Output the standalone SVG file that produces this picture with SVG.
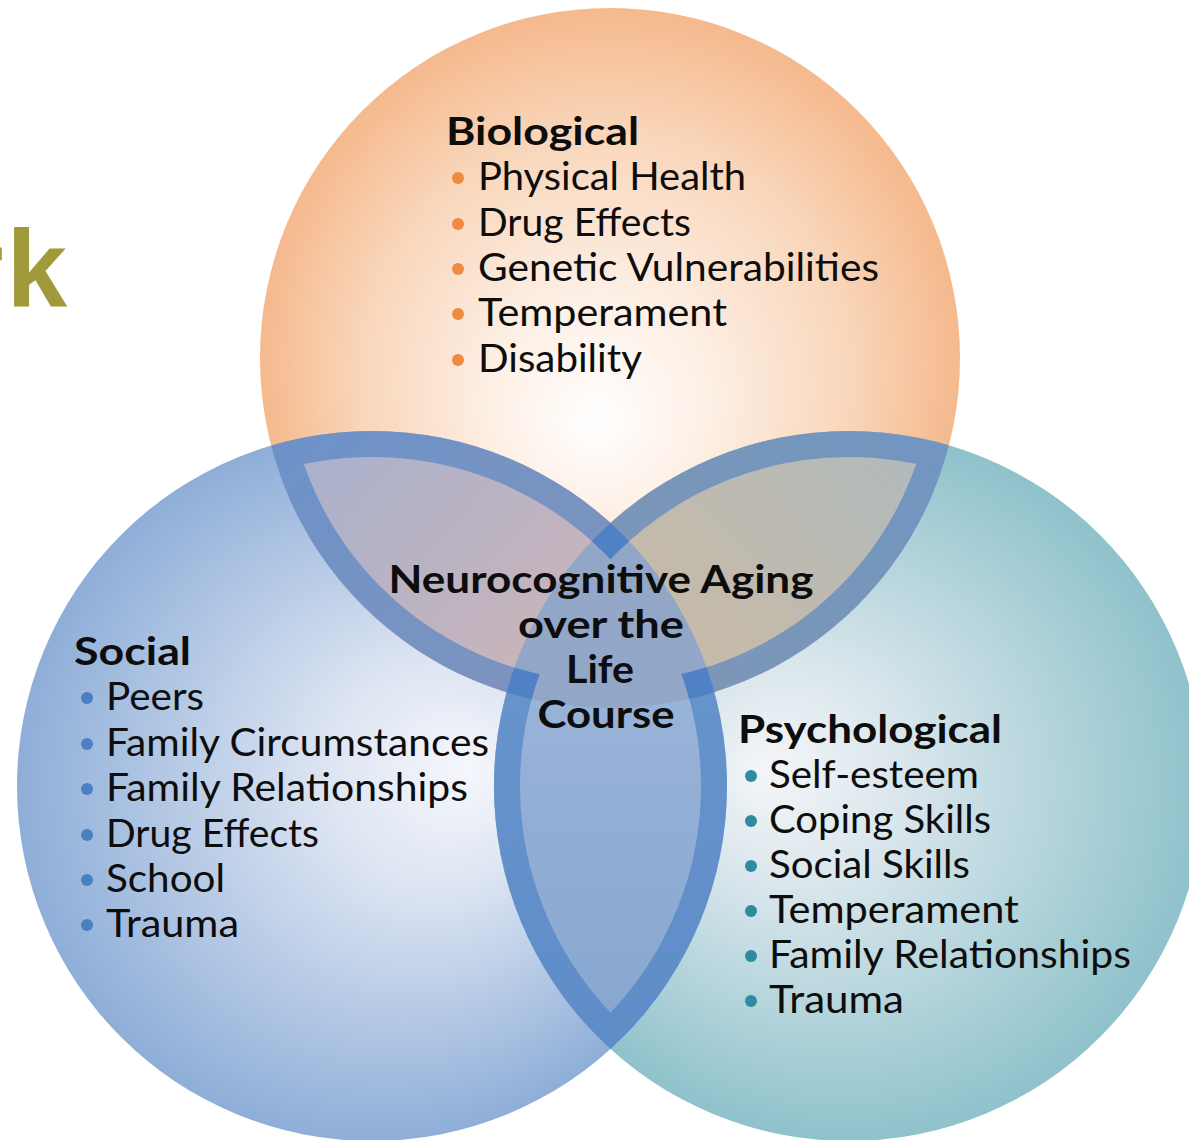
<svg xmlns="http://www.w3.org/2000/svg" width="1189" height="1140" viewBox="0 0 1189 1140">
  <style>
    .head { font-family: Lato, "Open Sans", "Liberation Sans", sans-serif; font-weight: bold; font-size: 39px; fill: #0d0d0d; }
    .item { font-family: Lato, "Open Sans", "Liberation Sans", sans-serif; font-size: 39px; fill: #0d0d0d; }
    .band { fill: none; stroke: #3f78c4; stroke-width: 52; }
    .dotB { fill: #ef8a43; }
    .dotS { fill: #4a7fc0; }
    .dotP { fill: #2e8ba0; }
  </style>
  <defs>
    <!-- circle fills -->
    <radialGradient id="gTop" gradientUnits="userSpaceOnUse" cx="610" cy="358" r="350" fx="595" fy="425">
      <stop offset="0" stop-color="#ffffff"/>
      <stop offset="0.3" stop-color="#fdf0e6"/>
      <stop offset="0.7" stop-color="#f9d6ba"/>
      <stop offset="1" stop-color="#f5b98d"/>
    </radialGradient>
    <radialGradient id="gLeft" gradientUnits="userSpaceOnUse" cx="372" cy="786" r="355" fx="470" fy="770">
      <stop offset="0" stop-color="#f5f7fc"/>
      <stop offset="0.3" stop-color="#dfe6f3"/>
      <stop offset="1" stop-color="#8eaed8"/>
    </radialGradient>
    <radialGradient id="gRight" gradientUnits="userSpaceOnUse" cx="849" cy="786" r="355" fx="765" fy="770">
      <stop offset="0" stop-color="#f4f6f8"/>
      <stop offset="0.3" stop-color="#dbe7ed"/>
      <stop offset="1" stop-color="#8fc2cb"/>
    </radialGradient>
    <!-- overlap fills -->
    <linearGradient id="gTL" gradientUnits="userSpaceOnUse" x1="300" y1="450" x2="560" y2="700">
      <stop offset="0" stop-color="#a9b1cd"/>
      <stop offset="1" stop-color="#cdb5b8"/>
    </linearGradient>
    <linearGradient id="gTR" gradientUnits="userSpaceOnUse" x1="930" y1="450" x2="660" y2="700">
      <stop offset="0" stop-color="#b1babd"/>
      <stop offset="1" stop-color="#cbbaa5"/>
    </linearGradient>
    <linearGradient id="gBot" gradientUnits="userSpaceOnUse" x1="0" y1="700" x2="0" y2="1047">
      <stop offset="0" stop-color="#99b3d9"/>
      <stop offset="1" stop-color="#87a6cf"/>
    </linearGradient>
    <clipPath id="cT"><circle cx="610" cy="358" r="350"/></clipPath>
    <clipPath id="cL"><circle cx="372" cy="786" r="355"/></clipPath>
    <clipPath id="cR"><circle cx="849" cy="786" r="355"/></clipPath>
    <!-- everything except the deep interior of each circle -->
    <clipPath id="notT"><path clip-rule="evenodd" d="M-10,-10H1200V1150H-10Z M286,358a324,324 0 1,0 648,0a324,324 0 1,0 -648,0Z"/></clipPath>
    <clipPath id="notL"><path clip-rule="evenodd" d="M-10,-10H1200V1150H-10Z M43,786a329,329 0 1,0 658,0a329,329 0 1,0 -658,0Z"/></clipPath>
    <clipPath id="notR"><path clip-rule="evenodd" d="M-10,-10H1200V1150H-10Z M520,786a329,329 0 1,0 658,0a329,329 0 1,0 -658,0Z"/></clipPath>
  </defs>

  <rect width="1189" height="1140" fill="#ffffff"/>

  <!-- tail of the page title, running in from the left edge -->
  <text x="-39" y="306" font-family="'Liberation Sans', Arial, sans-serif" font-weight="bold" font-size="109" fill="#a09a3a">r<tspan dx="3">k</tspan></text>

  <g id="circles">
    <circle id="circle-biological" cx="610" cy="358" r="350" fill="url(#gTop)"/>
    <circle id="circle-social" cx="372" cy="786" r="355" fill="url(#gLeft)"/>
    <circle id="circle-psychological" cx="849" cy="786" r="355" fill="url(#gRight)"/>
  </g>

  <g id="overlaps">
    <g clip-path="url(#cT)"><circle cx="372" cy="786" r="355" fill="url(#gTL)"/></g>
    <g clip-path="url(#cT)"><circle cx="849" cy="786" r="355" fill="url(#gTR)"/></g>
    <g clip-path="url(#cL)"><circle cx="849" cy="786" r="355" fill="url(#gBot)"/></g>
    <g clip-path="url(#cT)"><g clip-path="url(#cL)"><circle cx="849" cy="786" r="355" fill="#93a7c8"/></g></g>
  </g>

  <!-- inner rims of the pairwise overlaps -->
  <g id="connectors">
    <g clip-path="url(#cT)"><g clip-path="url(#cL)"><g clip-path="url(#notR)" opacity="0.55">
      <circle class="band" cx="610" cy="358" r="350"/>
      <circle class="band" cx="372" cy="786" r="355"/>
    </g></g></g>
    <g clip-path="url(#cT)"><g clip-path="url(#cR)"><g clip-path="url(#notL)" opacity="0.55">
      <circle class="band" cx="610" cy="358" r="350"/>
      <circle class="band" cx="849" cy="786" r="355"/>
    </g></g></g>
    <g clip-path="url(#cL)"><g clip-path="url(#cR)"><g clip-path="url(#notT)" opacity="0.55">
      <circle class="band" cx="372" cy="786" r="355"/>
      <circle class="band" cx="849" cy="786" r="355"/>
    </g></g></g>
  </g>

  <g id="node-biological">
    <text class="head" x="446" y="145" textLength="193" lengthAdjust="spacingAndGlyphs">Biological</text>
    <circle class="dotB" cx="458" cy="178" r="6"/>
    <text class="item" x="478" y="190" textLength="268" lengthAdjust="spacingAndGlyphs">Physical Health</text>
    <circle class="dotB" cx="458" cy="224" r="6"/>
    <text class="item" x="478" y="236" textLength="213" lengthAdjust="spacingAndGlyphs">Drug Effects</text>
    <circle class="dotB" cx="458" cy="269" r="6"/>
    <text class="item" x="478" y="281" textLength="401" lengthAdjust="spacingAndGlyphs">Genetic Vulnerabilities</text>
    <circle class="dotB" cx="458" cy="314" r="6"/>
    <text class="item" x="478" y="326" textLength="249" lengthAdjust="spacingAndGlyphs">Temperament</text>
    <circle class="dotB" cx="458" cy="360" r="6"/>
    <text class="item" x="478" y="372" textLength="164" lengthAdjust="spacingAndGlyphs">Disability</text>
  </g>

  <g id="node-social">
    <text class="head" x="74" y="665" textLength="117" lengthAdjust="spacingAndGlyphs">Social</text>
    <circle class="dotS" cx="87" cy="698" r="6"/>
    <text class="item" x="106" y="710" textLength="98" lengthAdjust="spacingAndGlyphs">Peers</text>
    <circle class="dotS" cx="87" cy="744" r="6"/>
    <text class="item" x="106" y="756" textLength="383" lengthAdjust="spacingAndGlyphs">Family Circumstances</text>
    <circle class="dotS" cx="87" cy="789" r="6"/>
    <text class="item" x="106" y="801" textLength="362" lengthAdjust="spacingAndGlyphs">Family Relationships</text>
    <circle class="dotS" cx="87" cy="835" r="6"/>
    <text class="item" x="106" y="847" textLength="213" lengthAdjust="spacingAndGlyphs">Drug Effects</text>
    <circle class="dotS" cx="87" cy="880" r="6"/>
    <text class="item" x="106" y="892" textLength="119" lengthAdjust="spacingAndGlyphs">School</text>
    <circle class="dotS" cx="87" cy="925" r="6"/>
    <text class="item" x="106" y="937" textLength="133" lengthAdjust="spacingAndGlyphs">Trauma</text>
  </g>

  <g id="node-psychological">
    <text class="head" x="738" y="743" textLength="264" lengthAdjust="spacingAndGlyphs">Psychological</text>
    <circle class="dotP" cx="751" cy="776" r="6"/>
    <text class="item" x="769" y="788" textLength="210" lengthAdjust="spacingAndGlyphs">Self-esteem</text>
    <circle class="dotP" cx="751" cy="821" r="6"/>
    <text class="item" x="769" y="833" textLength="222" lengthAdjust="spacingAndGlyphs">Coping Skills</text>
    <circle class="dotP" cx="751" cy="866" r="6"/>
    <text class="item" x="769" y="878" textLength="201" lengthAdjust="spacingAndGlyphs">Social Skills</text>
    <circle class="dotP" cx="751" cy="911" r="6"/>
    <text class="item" x="769" y="923" textLength="250" lengthAdjust="spacingAndGlyphs">Temperament</text>
    <circle class="dotP" cx="751" cy="956" r="6"/>
    <text class="item" x="769" y="968" textLength="362" lengthAdjust="spacingAndGlyphs">Family Relationships</text>
    <circle class="dotP" cx="751" cy="1001" r="6"/>
    <text class="item" x="769" y="1013" textLength="135" lengthAdjust="spacingAndGlyphs">Trauma</text>
  </g>

  <g id="node-center" text-anchor="middle">
    <text class="head" x="601" y="593" textLength="425" lengthAdjust="spacingAndGlyphs">Neurocognitive Aging</text>
    <text class="head" x="601" y="638" textLength="166" lengthAdjust="spacingAndGlyphs">over the</text>
    <text class="head" x="600" y="683" textLength="68" lengthAdjust="spacingAndGlyphs">Life</text>
    <text class="head" x="606" y="728" textLength="137" lengthAdjust="spacingAndGlyphs">Course</text>
  </g>
</svg>
